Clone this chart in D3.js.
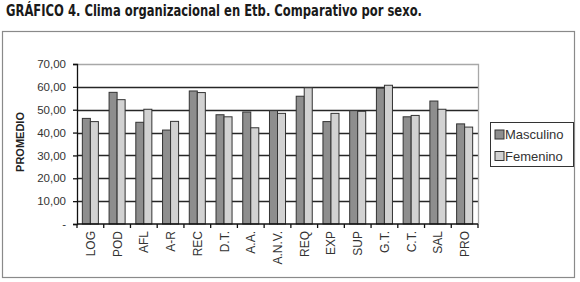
<!DOCTYPE html>
<html>
<head>
<meta charset="utf-8">
<script src="https://cdn.jsdelivr.net/npm/d3@7"></script>
<style>
  body { margin: 0; background: white; }
</style>
</head>
<body>
<div id="container"></div>
<script>
let w = 580;
let h = 282;

// DATA
let categories = ["LOG", "POD", "AFL", "A-R", "REC", "D.T.", "A.A.", "A.N.V.", "REQ", "EXP", "SUP", "G.T.", "C.T.", "SAL", "PRO"];
let masculino = [46.2, 57.6, 44.5, 41.1, 58.2, 47.8, 49.0, 49.6, 55.9, 44.8, 49.6, 59.4, 46.9, 53.8, 43.8];
let femenino = [44.8, 54.4, 50.2, 44.9, 57.5, 46.9, 42.1, 48.4, 59.6, 48.4, 49.3, 60.7, 47.5, 50.2, 42.4];
let seriesNames = ["Masculino", "Femenino"];
let seriesColors = ["#8e8e8e", "#d2d2d2"];
let yTicks = [0, 10, 20, 30, 40, 50, 60, 70];

let plot = { left: 77, right: 478, top: 64, bottom: 224 };

let viz = d3.select("#container").append("svg")
  .attr("width", w)
  .attr("height", h)
  .style("display", "block")
  .style("font-family", "'Liberation Sans', Arial, sans-serif");

// title
viz.append("text")
  .attr("x", 6)
  .attr("y", 16)
  .attr("textLength", 416)
  .attr("lengthAdjust", "spacingAndGlyphs")
  .style("font-family", "'Liberation Sans Narrow', 'DejaVu Sans Condensed', sans-serif")
  .style("font-stretch", "condensed")
  .style("font-weight", "bold")
  .style("font-size", "16.5px")
  .attr("fill", "#1a1a1a")
  .text("GRÁFICO 4. Clima organizacional en Etb. Comparativo por sexo.");

// outer frame
viz.append("rect")
  .attr("x", 2.5).attr("y", 31.5)
  .attr("width", 572).attr("height", 246)
  .attr("fill", "none")
  .attr("stroke", "#8a8a8a")
  .attr("stroke-width", 1.2);

// scales
let x = d3.scaleBand().domain(categories).range([plot.left, plot.right]).paddingInner(0.4).paddingOuter(0.2);
let xBand = d3.scaleBand().domain(categories).range([plot.left, plot.right]);
let xSub = d3.scaleBand().domain(seriesNames).range([0, x.bandwidth()]);
let y = d3.scaleLinear().domain([0, 70]).range([plot.bottom, plot.top]);

// gridlines
viz.selectAll(".grid").data(yTicks.filter(d => d > 0 && d < 70)).enter()
  .append("line")
  .attr("class", "grid")
  .attr("x1", plot.left).attr("x2", plot.right)
  .attr("y1", d => Math.round(y(d)) + 0.5).attr("y2", d => Math.round(y(d)) + 0.5)
  .attr("stroke", "#262626")
  .attr("stroke-width", 1.3);

// top and right border of plot area
viz.append("path")
  .attr("d", `M${plot.left},${plot.top + 0.5}H${plot.right + 0.5}V${plot.bottom}`)
  .attr("fill", "none")
  .attr("stroke", "#a8a8a8")
  .attr("stroke-width", 1.3);

// bars
let rows = categories.map((c, i) => ({ cat: c, values: [masculino[i], femenino[i]] }));
let groups = viz.selectAll(".group").data(rows).enter()
  .append("g")
  .attr("class", "group")
  .attr("transform", d => `translate(${x(d.cat)},0)`);

groups.selectAll("rect").data(d => d.values.map((v, j) => ({ name: seriesNames[j], v: v, j: j }))).enter()
  .append("rect")
  .attr("x", d => xSub(d.name))
  .attr("y", d => y(d.v))
  .attr("width", xSub.bandwidth())
  .attr("height", d => y(0) - y(d.v))
  .attr("fill", d => seriesColors[d.j])
  .attr("stroke", "#333")
  .attr("stroke-width", 1);

// y axis
let yAxis = d3.axisLeft(y)
  .tickValues(yTicks)
  .tickSize(4)
  .tickPadding(7)
  .tickFormat(d => d === 0 ? "-" : d3.format(".2f")(d).replace(".", ","));

let gy = viz.append("g")
  .attr("transform", `translate(${plot.left},0)`)
  .call(yAxis);
gy.select(".domain").attr("stroke", "#111").attr("stroke-width", 1.3);
gy.selectAll(".tick line").attr("stroke", "#111").attr("stroke-width", 1.3);
gy.selectAll(".tick text")
  .style("font-family", "'Liberation Sans', Arial, sans-serif")
  .style("font-size", "11.5px")
  .attr("fill", "#333");

// x axis: ticks between categories
let gx = viz.append("g")
  .attr("transform", `translate(0,${plot.bottom})`);
gx.append("line")
  .attr("x1", plot.left).attr("x2", plot.right)
  .attr("stroke", "#111").attr("stroke-width", 1.3);
gx.selectAll(".sep").data(categories.concat(["end"])).enter()
  .append("line")
  .attr("class", "sep")
  .attr("x1", (d, i) => i < categories.length ? xBand(d) : plot.right)
  .attr("x2", (d, i) => i < categories.length ? xBand(d) : plot.right)
  .attr("y1", 0).attr("y2", 4)
  .attr("stroke", "#111").attr("stroke-width", 1.3);

gx.selectAll(".xlabel").data(categories).enter()
  .append("text")
  .attr("class", "xlabel")
  .attr("transform", d => `translate(${x(d) + x.bandwidth() / 2 + 4.5},7) rotate(-90)`)
  .attr("text-anchor", "end")
  .style("font-size", "12px")
  .attr("fill", "#333")
  .text(d => d);

// y axis title
viz.append("text")
  .attr("transform", "translate(24,142) rotate(-90)")
  .attr("text-anchor", "middle")
  .style("font-size", "11px")
  .style("font-weight", "bold")
  .attr("fill", "#222")
  .text("PROMEDIO");

// legend
let legend = viz.append("g").attr("transform", "translate(490,122)");
legend.append("rect")
  .attr("x", 0.5).attr("y", 0.5)
  .attr("width", 83).attr("height", 44)
  .attr("fill", "white")
  .attr("stroke", "#333")
  .attr("stroke-width", 1);

let items = legend.selectAll(".item").data(seriesNames).enter()
  .append("g")
  .attr("class", "item")
  .attr("transform", (d, i) => `translate(5,${12.5 + i * 21.5})`);
items.append("rect")
  .attr("x", 0).attr("y", -4.5)
  .attr("width", 9).attr("height", 9)
  .attr("fill", (d, i) => seriesColors[i])
  .attr("stroke", "#333");
items.append("text")
  .attr("x", 10)
  .attr("y", 4.5)
  .style("font-size", "13px")
  .attr("fill", "#333")
  .text(d => d);
</script>
</body>
</html>
